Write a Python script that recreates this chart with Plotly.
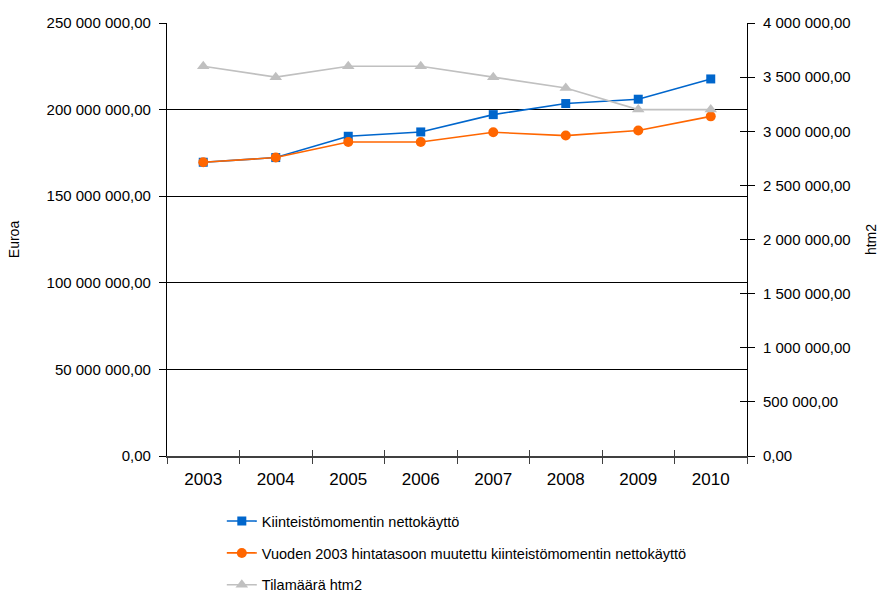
import plotly.graph_objects as go

years = ["2003", "2004", "2005", "2006", "2007", "2008", "2009", "2010"]
netto = [169.6e6, 172.3e6, 184.6e6, 187.1e6, 197.1e6, 203.5e6, 206.0e6, 217.7e6]
netto_2003 = [169.6e6, 172.3e6, 181.3e6, 181.3e6, 186.9e6, 185.0e6, 187.9e6, 196.1e6]
tilamaara = [3.6e6, 3.5e6, 3.6e6, 3.6e6, 3.5e6, 3.4e6, 3.2e6, 3.2e6]

names = ["Kiinteistömomentin nettokäyttö",
         "Vuoden 2003 hintatasoon muutettu kiinteistömomentin nettokäyttö",
         "Tilamäärä htm2"]

left_ticks = [0, 50e6, 100e6, 150e6, 200e6, 250e6]
left_labels = ["0,00", "50 000 000,00", "100 000 000,00", "150 000 000,00",
               "200 000 000,00", "250 000 000,00"]
right_ticks = [i * 500e3 for i in range(9)]
right_labels = ["0,00", "500 000,00", "1 000 000,00", "1 500 000,00", "2 000 000,00",
                "2 500 000,00", "3 000 000,00", "3 500 000,00", "4 000 000,00"]

FONT = "Liberation Sans, Arial, sans-serif"

fig = go.Figure()
fig.add_trace(go.Scatter(x=years, y=netto, name=names[0], mode="lines+markers",
                         line=dict(color="#0066CC", width=1.6),
                         marker=dict(symbol="square", size=9, color="#0066CC"),
                         legendgroup="a", yaxis="y"))
fig.add_trace(go.Scatter(x=years, y=netto_2003, name=names[1], mode="lines+markers",
                         line=dict(color="#FF6600", width=1.6),
                         marker=dict(symbol="circle", size=10, color="#FF6600"),
                         legendgroup="b", yaxis="y"))
fig.add_trace(go.Scatter(x=years, y=tilamaara, name=names[2], mode="lines+markers",
                         line=dict(color="#C0C0C0", width=1.6),
                         marker=dict(symbol="triangle-up", size=11, color="#C0C0C0"),
                         legendgroup="c", yaxis="y2"))

fig.update_layout(
    width=879, height=593,
    margin=dict(l=167, r=132, t=23, b=137, autoexpand=False),
    paper_bgcolor="white", plot_bgcolor="white",
    font=dict(family=FONT, size=15, color="black"),
    showlegend=True,
    legend=dict(x=0.0945, xanchor="left", y=-0.1135, yanchor="top",
                orientation="v", tracegroupgap=10, font=dict(size=14.5),
                bgcolor="rgba(0,0,0,0)"),
    xaxis=dict(type="category", range=[-0.5, 7.5], showgrid=False,
               showline=True, linecolor="#404040", linewidth=2,
               ticks="outside", ticklen=6, tickcolor="#404040",
               tickson="boundaries", zeroline=False,
               ticklabelstandoff=7,
               tickfont=dict(size=17)),
    xaxis2=dict(type="category", range=[-0.5, 7.5], overlaying="x", anchor="y",
                side="bottom", showgrid=False, showline=False, showticklabels=False,
                ticks="inside", ticklen=6, tickcolor="#404040",
                tickson="boundaries", matches="x"),
    yaxis=dict(range=[0, 250e6], tickvals=left_ticks, ticktext=left_labels,
               showgrid=True, gridcolor="black", gridwidth=1,
               showline=True, linecolor="black", linewidth=1.3,
               ticks="outside", ticklen=7, tickcolor="black",
               ticklabelstandoff=5,
               zeroline=False,
               title=dict(text="Euroa", font=dict(size=14), standoff=23),
               tickfont=dict(size=15)),
    yaxis2=dict(range=[0, 4e6], tickvals=right_ticks, ticktext=right_labels,
                overlaying="y", side="right", anchor="x",
                showgrid=False, showline=True, linecolor="black", linewidth=1,
                ticks="outside", ticklen=7, tickcolor="black",
                ticklabelstandoff=5,
                zeroline=False,
                title=dict(text="htm2", font=dict(size=14), standoff=17),
                tickfont=dict(size=15)),
    yaxis3=dict(range=[0, 4e6], tickvals=right_ticks, overlaying="y", side="right",
                anchor="x", showgrid=False, showline=False, showticklabels=False,
                ticks="inside", ticklen=7, tickcolor="black", zeroline=False),
)
fig.add_trace(go.Scatter(x=years, y=[None] * len(years), xaxis="x2", yaxis="y3",
                         showlegend=False, hoverinfo="skip"))

fig.write_html("out.html")
